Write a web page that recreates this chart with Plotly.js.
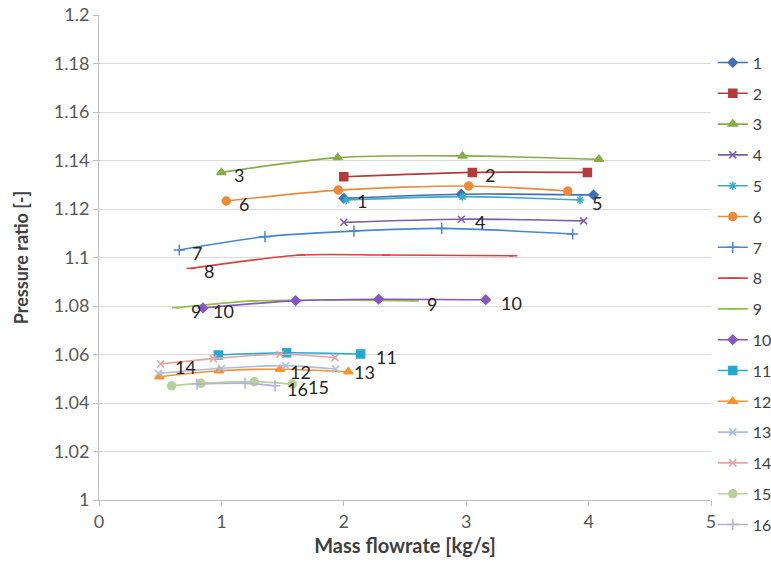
<!DOCTYPE html>
<html>
<head>
<meta charset="utf-8">
<script src="https://cdn.plot.ly/plotly-3.0.1.min.js"></script>
<style>body{margin:0;background:#fff}#chart{width:771px;height:570px}</style>
</head>
<body>
<div id="chart"></div>
<script>
const seriesNames = ["1","2","3","4","5","6","7","8","9","10","11","12","13","14","15","16"];
const x1 = [2.00, 2.96, 4.04];         const y1 = [1.1244, 1.1261, 1.1258];
const x2 = [2.00, 3.05, 3.99];         const y2 = [1.1333, 1.1351, 1.1351];
const x3 = [1.00, 1.95, 2.97, 4.085];  const y3 = [1.1351, 1.1412, 1.1419, 1.1405];
const x4 = [2.00, 2.96, 3.96];         const y4 = [1.1145, 1.1158, 1.1151];
const x5 = [2.02, 2.97, 3.93];         const y5 = [1.1237, 1.1251, 1.1237];
const x6 = [1.04, 1.955, 3.02, 3.83];  const y6 = [1.1233, 1.1278, 1.1295, 1.1274];
const x7 = [0.656, 1.356, 2.083, 2.80, 3.87]; const y7 = [1.1031, 1.1086, 1.1109, 1.1120, 1.1097];
const x8 = [0.749, 1.65, 2.345, 3.385]; const y8 = [1.0955, 1.1010, 1.1010, 1.1007];
const x9 = [0.63, 1.26, 1.88, 2.58];   const y9 = [1.0793, 1.0821, 1.0825, 1.0821];
const x10 = [0.85, 1.607, 2.285, 3.16]; const y10 = [1.0792, 1.0822, 1.0828, 1.0826];
const x11 = [0.975, 1.533, 2.138];     const y11 = [1.0598, 1.0607, 1.0602];
const x12 = [0.493, 0.98, 1.479, 2.037]; const y12 = [1.0508, 1.0533, 1.0539, 1.0529];
const x13 = [0.485, 1.00, 1.525, 1.934]; const y13 = [1.0522, 1.0543, 1.0554, 1.0540];
const x14 = [0.504, 0.934, 1.479, 1.928]; const y14 = [1.0561, 1.0583, 1.0601, 1.0587];
const x15 = [0.594, 0.833, 1.269, 1.58]; const y15 = [1.0471, 1.0481, 1.0488, 1.0478];
const x16 = [0.80, 1.193, 1.438];      const y16 = [1.0478, 1.0481, 1.0471];

const xs = [x1,x2,x3,x4,x5,x6,x7,x8,x9,x10,x11,x12,x13,x14,x15,x16];
const ys = [y1,y2,y3,y4,y5,y6,y7,y8,y9,y10,y11,y12,y13,y14,y15,y16];

const colors = ["#3f6fb6","#b33b3b","#86ad48","#7b5ea7","#3eaac6","#ea8a3c","#4a86d0","#d9413e","#8ec23f","#8658bf","#27a9cf","#f7922e","#a9bde2","#e7a3a3","#b6d29b","#b6b0da"];
const symbols = ["diamond","square","triangle-up","x-thin","asterisk","circle","cross-thin","line-ew","line-ew","diamond","square","triangle-up","x-thin","x-thin","circle","cross-thin"];
const sizes = [7,8,8,7,7,8,8,6,6,7,8,8,7,7,8,8];

// data labels: [series index, point index, xshift]
const labelRefs = [[2,0,11],[1,1,11],[5,0,11],[0,0,11],[4,2,10],[3,1,12],[6,0,11],[7,0,11],[8,0,13],[8,3,10],[9,0,8],[9,3,13],[10,2,13],[11,2,8],[12,3,16],[13,0,12],[14,3,14],[15,2,10]];

const traces = seriesNames.map((n,i)=>({
  type:'scatter', mode:'lines+markers', name:n, legendgroup:n,
  x:xs[i], y:ys[i],
  line:{color:colors[i], width:1.6, shape:'spline', smoothing:0.8},
  marker:{color:colors[i], symbol:symbols[i], size:sizes[i], line:{color:colors[i], width:1.5}}
}));

const annotations = labelRefs.map(([s,p,dx])=>({
  x:xs[s][p], y:ys[s][p], xref:'x', yref:'y', text:seriesNames[s], showarrow:false,
  xanchor:'left', yanchor:'middle', xshift:dx, yshift:-3,
  font:{family:'Lato, Carlito, sans-serif', size:18, color:'#262626'}
}));

const layout = {
  width:771, height:570,
  margin:{l:99, r:60, t:15, b:70},
  paper_bgcolor:'#fff', plot_bgcolor:'#fff',
  font:{family:'Lato, Carlito, sans-serif', color:'#595959'},
  xaxis:{range:[0,5], dtick:1, showgrid:false, zeroline:false, showline:true, linecolor:'#bfbfbf', linewidth:1,
    ticks:'outside', ticklen:5, tickcolor:'#bfbfbf', tickfont:{size:18, color:'#595959'},
    title:{text:'<b>Mass flowrate [kg/s]</b>', font:{size:20, color:'#404040'}, standoff:8}},
  yaxis:{range:[1,1.2], dtick:0.02, showgrid:true, gridcolor:'#d9d9d9', zeroline:false, showline:true, linecolor:'#bfbfbf', linewidth:1,
    ticks:'outside', ticklen:5, tickcolor:'#bfbfbf', tickfont:{size:18, color:'#595959'},
    title:{text:'<b>Pressure ratio [-]</b>', font:{size:18, color:'#404040'}, standoff:20}},
  legend:{xref:'container', yref:'container', x:0.9245, xanchor:'left', y:0.92, yanchor:'top', font:{size:16, color:'#404040'},
    tracegroupgap:7, itemwidth:30, bgcolor:'rgba(0,0,0,0)', maxheight:540},
  annotations:annotations,
  showlegend:true
};
Plotly.newPlot('chart', traces, layout, {displayModeBar:false, staticPlot:true});
</script>
</body>
</html>
